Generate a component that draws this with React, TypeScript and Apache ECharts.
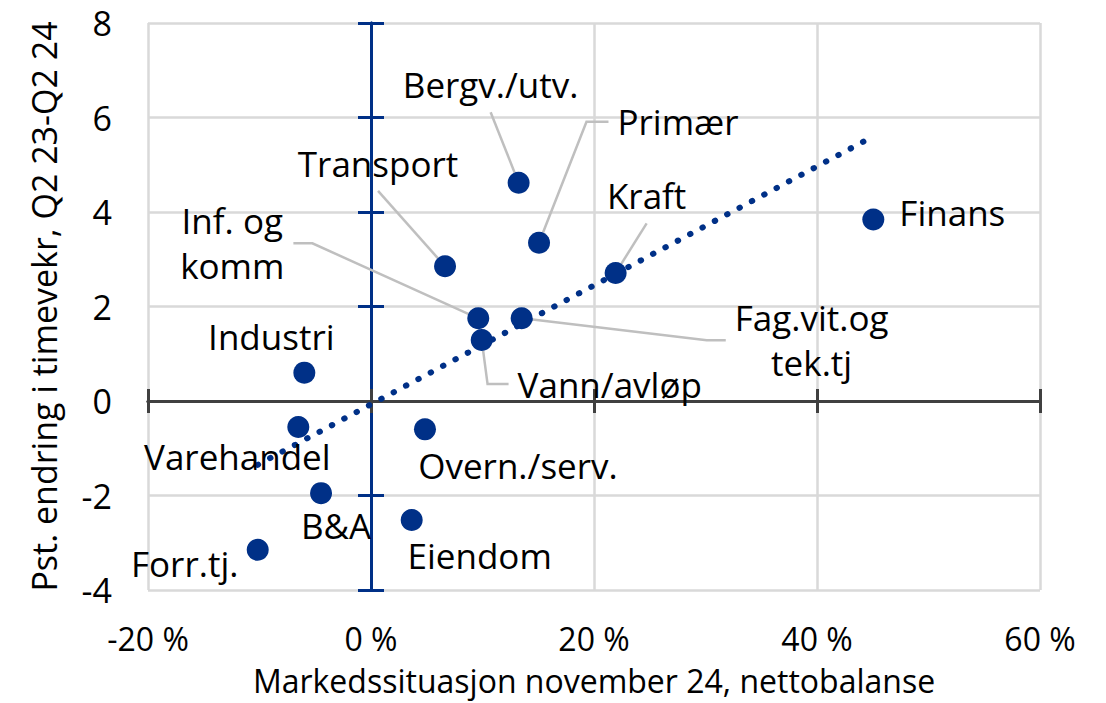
import React, { useEffect, useRef } from "react";
import * as echarts from "echarts";

// ---- Data ----
const sectors = [
  "Finans",
  "Kraft",
  "Primær",
  "Bergv./utv.",
  "Transport",
  "Inf. og\nkomm",
  "Fag.vit.og\ntek.tj",
  "Vann/avløp",
  "Industri",
  "Varehandel",
  "Overn./serv.",
  "B&A",
  "Eiendom",
  "Forr.tj.",
];
const marketBalance = [45.05, 21.94, 15.07, 13.24, 6.64, 9.62, 13.51, 9.93, -5.98, -6.52, 4.84, -4.48, 3.65, -10.16];
const wageGrowth = [3.84, 2.71, 3.35, 4.62, 2.85, 1.75, 1.75, 1.29, 0.6, -0.55, -0.6, -1.95, -2.52, -3.15];
const trendX = [-10.16, 45.05];
const trendY = [-1.35, 5.6];

const xMin = -20;
const xMax = 60;
const xStep = 20;
const yMin = -4;
const yMax = 8;
const yStep = 2;

const xTitle = "Markedssituasjon november 24, nettobalanse";
const yTitle = "Pst. endring i timevekr, Q2 23-Q2 24";

// ---- Style (label placement in pixels relative to the marker) ----
const labelOffsets: number[][] = [
  [79, -7],
  [31, -77],
  [139, -121],
  [-28, -98],
  [-67, -103],
  [-246, -75],
  [290, 22],
  [128, 44],
  [-33, -36],
  [-61, 30],
  [93, 36],
  [15, 32],
  [68, 35],
  [-73, 14],
];
// leader line second segment length (null = no leader line)
const leaderLen: (number | null)[] = [null, 0, 22, 0, 0, 19, 19, 21, null, null, null, null, null, null];

const FONT = "'Open Sans', 'Noto Sans', sans-serif";
const FS = 34;
const XFS = 32;
const LFS = 35;
const BLUE = "#003087";
const DARK = "#404040";
const GRID = "#d9d9d9";

export default function App() {
  const ref = useRef<HTMLDivElement>(null);
  useEffect(() => {
    if (!ref.current) return;
    const chart = echarts.init(ref.current, undefined, { renderer: "svg" });

    const scatterData = sectors.map((name, i) => {
      const item: any = {
        name,
        value: [marketBalance[i], wageGrowth[i]],
        label: { offset: labelOffsets[i] },
      };
      const L = leaderLen[i];
      if (L !== null) {
        item.label.padding = [5, 9];
        item.label.backgroundColor = "rgba(0,0,0,0)";
        item.labelLine = {
          show: true,
          length2: L,
          lineStyle: { color: "#bfbfbf", width: 2.5, opacity: 1 },
        };
      }
      return item;
    });

    const zeroX = (pos: string, z: number) => ({
      type: "value",
      min: xMin,
      max: xMax,
      interval: xStep,
      position: pos,
      z,
      axisLine: { show: true, onZero: true, onZeroAxisIndex: 0, lineStyle: { color: DARK, width: 3 } },
      axisTick: { show: true, inside: false, length: 12, lineStyle: { color: DARK, width: 3 } },
      axisLabel: { show: false },
      splitLine: { show: false },
    });
    const zeroY = (pos: string, z: number) => ({
      type: "value",
      min: yMin,
      max: yMax,
      interval: yStep,
      position: pos,
      z,
      axisLine: { show: true, onZero: true, onZeroAxisIndex: 0, lineStyle: { color: BLUE, width: 3 } },
      axisTick: { show: true, inside: false, length: 13, lineStyle: { color: BLUE, width: 3 } },
      axisLabel: { show: false },
      splitLine: { show: false },
    });

    chart.setOption({
      animation: false,
      backgroundColor: "#ffffff",
      textStyle: { fontFamily: FONT },
      grid: { left: 148, right: 66, top: 23, bottom: 113, containLabel: false, outerBoundsMode: "none" },
      xAxis: [
        {
          type: "value",
          min: xMin,
          max: xMax,
          interval: xStep,
          position: "bottom",
          axisLine: { show: false, onZero: false },
          axisTick: { show: false },
          axisLabel: { formatter: "{value} %", fontSize: XFS, lineHeight: 32, color: "#000", margin: 32, fontFamily: FONT },
          splitLine: { show: true, lineStyle: { color: GRID, width: 2.5 } },
          name: xTitle,
          nameLocation: "middle",
          nameGap: 74,
          nameMoveOverlap: false,
          nameTextStyle: { fontSize: XFS, lineHeight: 32, color: "#000", fontFamily: FONT },
        },
        zeroX("bottom", 2),
        zeroX("top", 2),
      ],
      yAxis: [
        {
          type: "value",
          min: yMin,
          max: yMax,
          interval: yStep,
          position: "left",
          axisLine: { show: false, onZero: false },
          axisTick: { show: false },
          axisLabel: { fontSize: FS, color: "#000", margin: 36, fontFamily: FONT },
          splitLine: { show: true, lineStyle: { color: GRID, width: 2.5 } },
          name: yTitle,
          nameLocation: "middle",
          nameGap: 87,
          nameMoveOverlap: false,
          nameTextStyle: { fontSize: FS, color: "#000", fontFamily: FONT },
        },
        zeroY("left", 1),
        zeroY("right", 1),
      ],
      series: [
        {
          type: "line",
          z: 3,
          xAxisIndex: 0,
          yAxisIndex: 0,
          data: trendX.map((x, i) => [x, trendY[i]]),
          showSymbol: false,
          symbol: "none",
          silent: true,
          lineStyle: { color: BLUE, width: 6, type: [0.5, 13.5], cap: "round", opacity: 1 },
        },
        {
          type: "scatter",
          z: 4,
          xAxisIndex: 0,
          yAxisIndex: 0,
          symbolSize: 22,
          itemStyle: { color: BLUE, opacity: 1 },
          label: {
            show: true,
            position: "inside",
            align: "center",
            verticalAlign: "middle",
            formatter: "{b}",
            color: "#000",
            opacity: 1,
            fontSize: LFS,
            fontFamily: FONT,
            lineHeight: 45,
            textBorderWidth: 0,
          },
          labelLine: { show: false },
          data: scatterData,
        },
      ],
    });
    return () => chart.dispose();
  }, []);
  return (
    <div
      ref={ref}
      style={{ position: "absolute", left: 0, top: 0, width: 1106, height: 703 }}
    />
  );
}
